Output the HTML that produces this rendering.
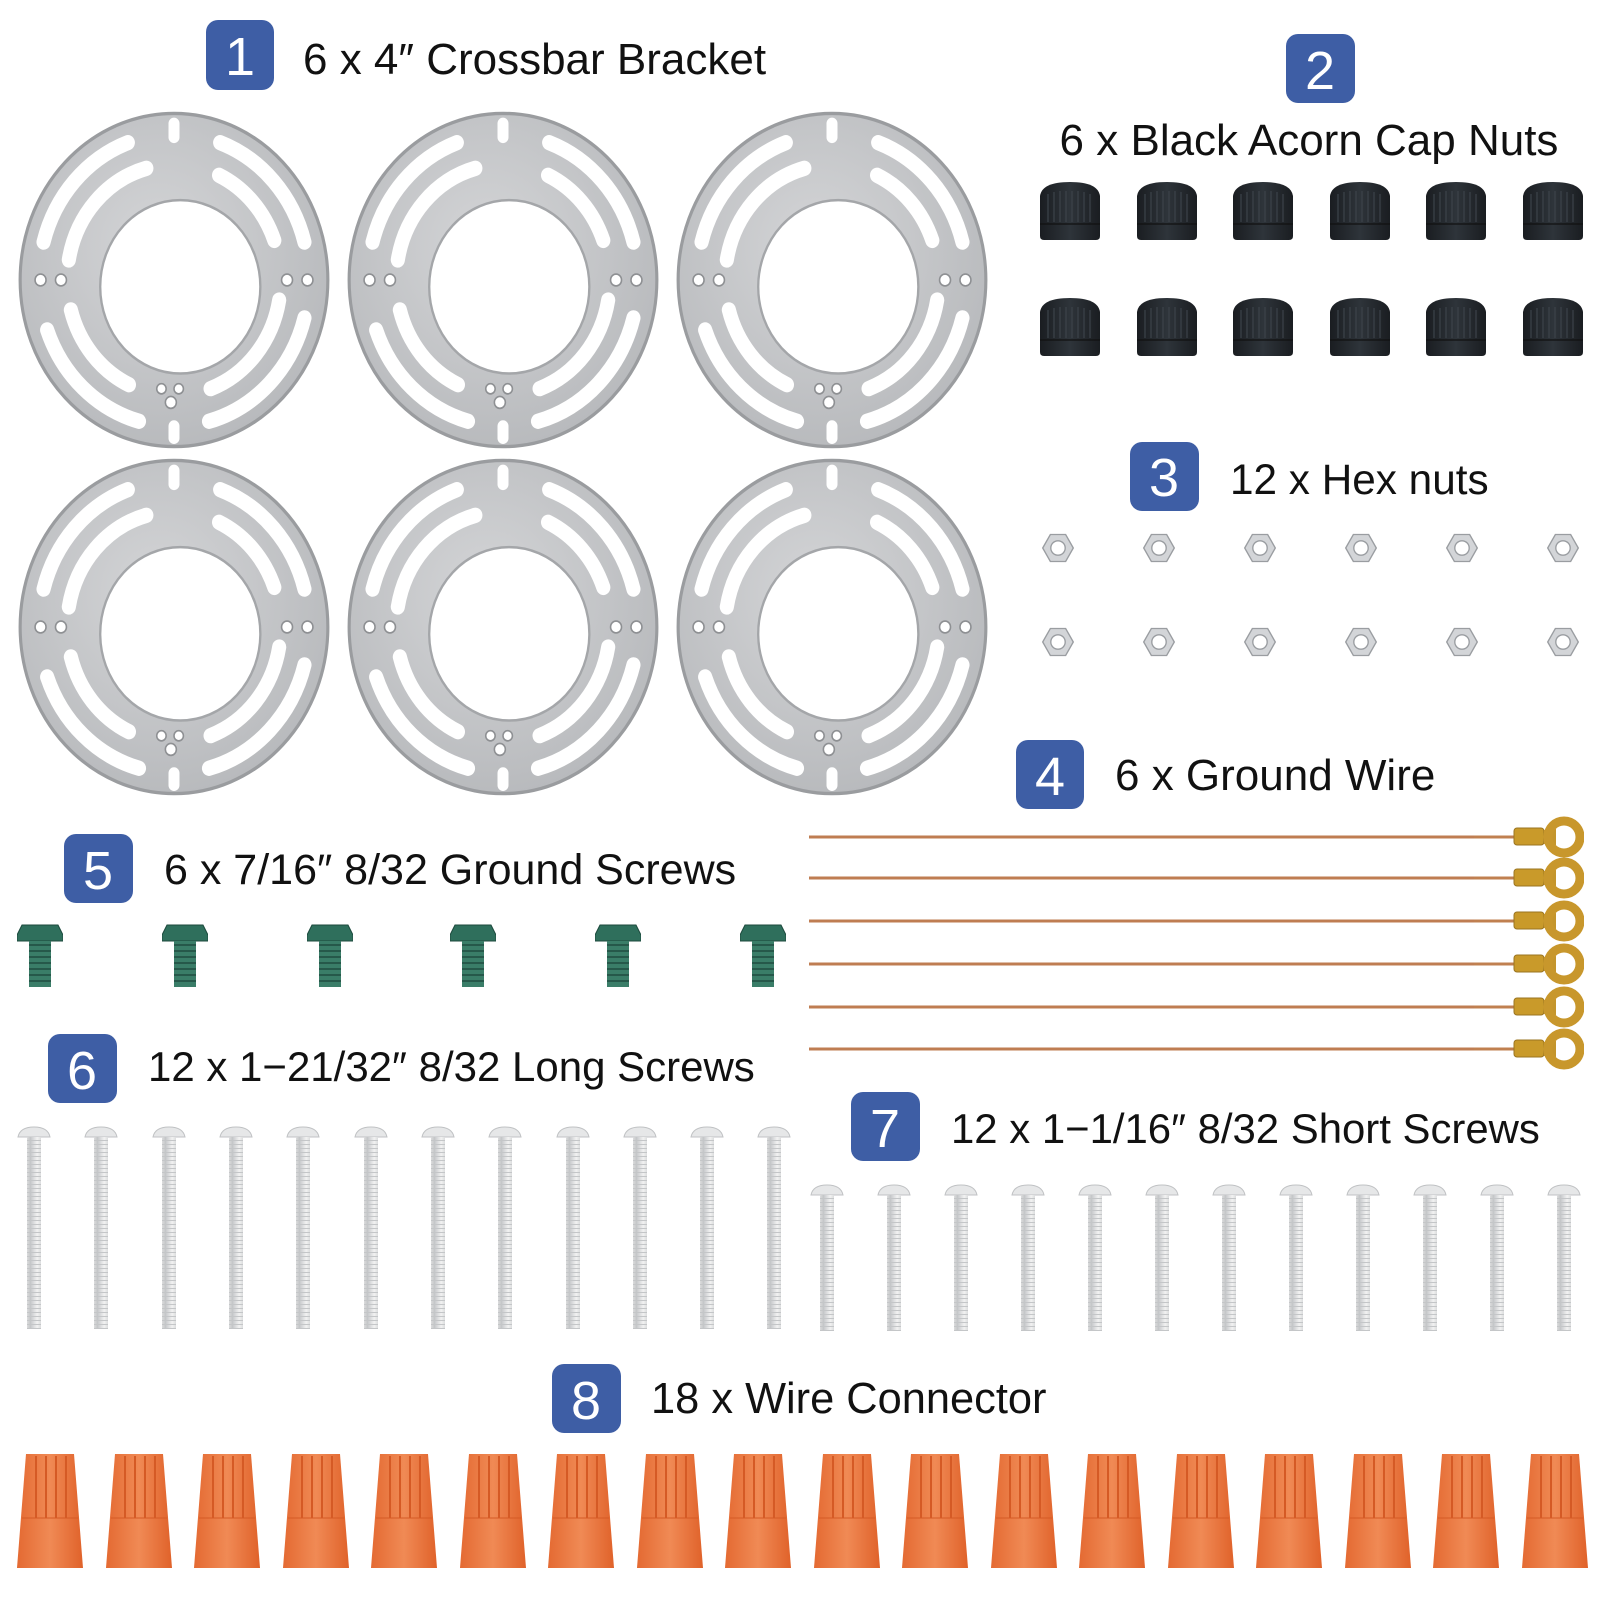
<!DOCTYPE html>
<html><head><meta charset="utf-8"><style>
html,body{margin:0;padding:0;background:#fff;}
svg{display:block}
.t{font-family:"Liberation Sans",sans-serif;font-size:44px;fill:#111;}
.n{font-family:"Liberation Sans",sans-serif;font-size:54px;fill:#fff;text-anchor:middle;}
</style></head><body>
<svg width="1600" height="1600" viewBox="0 0 1600 1600" xmlns="http://www.w3.org/2000/svg">
<defs>
<radialGradient id="plate" cx="45%" cy="40%" r="70%"><stop offset="0" stop-color="#d4d5d7"/><stop offset="1" stop-color="#b4b6b9"/></radialGradient>
<symbol id="br" viewBox="-100 -100 200 200" preserveAspectRatio="none">
 <circle cx="0" cy="0" r="98" fill="url(#plate)" stroke="#9a9c9f" stroke-width="2"/>
 <circle cx="4" cy="4" r="51" fill="#fff" stroke="#a4a6a9" stroke-width="1.5"/>
 <g fill="none" stroke="#fff" stroke-width="9" stroke-linecap="round">
  <path d="M29.4,-80.8 A86,86 0 0 1 83.1,-22.3"/>
  <path d="M-83.1,-22.3 A86,86 0 0 1 -29.4,-80.8"/>
  <path d="M-22.3,83.1 A86,86 0 0 1 -80.8,29.4"/>
  <path d="M83.1,22.3 A86,86 0 0 1 22.3,83.1"/>
  <path d="M28.7,-61.6 A68,68 0 0 1 63.9,-23.3"/>
  <path d="M-67,-11.8 A68,68 0 0 1 -17.6,-65.7"/>
  <path d="M-28.7,61.6 A68,68 0 0 1 -65.7,17.6"/>
  <path d="M67,11.8 A68,68 0 0 1 23.3,63.9"/>
  <path d="M0,-92 L0,-84" stroke-width="7"/>
  <path d="M0,86 L0,93" stroke-width="7"/>
 </g>
 <g fill="#fff" stroke="#8e9093" stroke-width="1">
  <circle cx="-85" cy="0" r="3.5"/><circle cx="-72" cy="0" r="3.5"/>
  <circle cx="72" cy="0" r="3.5"/><circle cx="85" cy="0" r="3.5"/>
  <circle cx="-8" cy="64" r="3"/><circle cx="3" cy="64" r="3"/><circle cx="-2" cy="72" r="3.5"/>
 </g>
</symbol>
<linearGradient id="capg" x1="0" x2="1"><stop offset="0" stop-color="#1a1d21"/><stop offset=".5" stop-color="#2e343a"/><stop offset="1" stop-color="#1a1d21"/></linearGradient>
<symbol id="cap" viewBox="0 0 60 58">
 <path d="M0,14 Q2,0 30,0 Q58,0 60,14 L60,54 Q60,58 56,58 L4,58 Q0,58 0,54Z" fill="url(#capg)"/>
 <g stroke="#3c434a" stroke-width="1.2"><path d="M8,12V40M14,10V40M20,9V40M26,9V40M32,9V40M38,9V40M44,10V40M50,12V40"/><path d="M0,42H60" stroke="#111"/></g>
</symbol>
<symbol id="hex" viewBox="-20 -20 40 40">
 <polygon points="-17,0 -8.5,-15 8.5,-15 17,0 8.5,15 -8.5,15" fill="#d3d5d8" stroke="#9a9da1" stroke-width="1.5"/>
 <circle r="8" fill="#fff" stroke="#9a9da1" stroke-width="1.5"/>
</symbol>
<linearGradient id="sg" x1="0" x2="1"><stop offset="0" stop-color="#c9cbcd"/><stop offset=".45" stop-color="#f2f2f2"/><stop offset="1" stop-color="#c2c4c6"/></linearGradient>
<pattern id="thr" width="14" height="4" patternUnits="userSpaceOnUse"><rect width="14" height="4" fill="url(#sg)"/><path d="M0,3.5H14" stroke="#c4c6c8" stroke-width="1"/></pattern>
<symbol id="ls" viewBox="0 0 34 206">
 <path d="M1,12 Q3,2 17,2 Q31,2 33,12Z" fill="#e6e7e8" stroke="#c0c2c4"/>
 <rect x="10" y="12" width="14" height="192" fill="url(#thr)"/>
</symbol>
<symbol id="ss" viewBox="0 0 34 150">
 <path d="M1,12 Q3,2 17,2 Q31,2 33,12Z" fill="#e6e7e8" stroke="#c0c2c4"/>
 <rect x="10" y="12" width="14" height="136" fill="url(#thr)"/>
</symbol>
<symbol id="gs" viewBox="0 0 46 66">
 <path d="M0,12 L5,2 L41,2 L46,12 L46,18 L0,18Z" fill="#2f6f5c" stroke="#1c4a3d"/>
 <rect x="12" y="18" width="22" height="46" fill="#3a7d68"/>
 <g stroke="#1f4c40" stroke-width="1.5"><path d="M12,22H34M12,28H34M12,34H34M12,40H34M12,46H34M12,52H34M12,58H34"/></g>
</symbol>
<linearGradient id="og" x1="0" x2="1"><stop offset="0" stop-color="#e46a32"/><stop offset=".5" stop-color="#f08a55"/><stop offset="1" stop-color="#e0622a"/></linearGradient>
<symbol id="wc" viewBox="0 0 68 118">
 <path d="M10,2 L58,2 L67,116 L1,116Z" fill="url(#og)"/>
 <g stroke="#d55a25" stroke-width="2"><path d="M20,4V66M30,4V66M40,4V66M50,4V66"/><path d="M6,66H62" stroke-width="1"/></g>
</symbol>
<symbol id="ring" viewBox="0 0 110 46">
 <path d="M0,23H44" stroke="#c08050" stroke-width="3"/>
 <rect x="40" y="14" width="30" height="17" rx="3" fill="#c99a2a" stroke="#9a7420"/>
 <path d="M70,16 L82,15 L82,31 L70,30Z" fill="#c4952c"/>
 <circle cx="90" cy="23" r="16" fill="none" stroke="#c8972c" stroke-width="9"/>
</symbol>
</defs>

<rect x="206" y="20" width="68" height="70" rx="12" fill="#3e5ea5"/><text class="n" x="240" y="75">1</text>
<text class="t" x="303" y="74">6 x 4″ Crossbar Bracket</text>
<rect x="1286" y="34" width="69" height="69" rx="12" fill="#3e5ea5"/><text class="n" x="1320" y="89">2</text>
<text class="t" x="1309" y="155" text-anchor="middle">6 x Black Acorn Cap Nuts</text>
<rect x="1130" y="442" width="69" height="69" rx="12" fill="#3e5ea5"/><text class="n" x="1164" y="496">3</text>
<text class="t" x="1230" y="494" style="font-size:42.3px">12 x Hex nuts</text>
<rect x="1016" y="740" width="68" height="69" rx="12" fill="#3e5ea5"/><text class="n" x="1050" y="795">4</text>
<text class="t" x="1115" y="790">6 x Ground Wire</text>
<rect x="64" y="834" width="69" height="69" rx="12" fill="#3e5ea5"/><text class="n" x="98" y="889">5</text>
<text class="t" x="164" y="884" style="font-size:43px">6 x 7/16″ 8/32 Ground Screws</text>
<rect x="48" y="1034" width="69" height="69" rx="12" fill="#3e5ea5"/><text class="n" x="82" y="1089">6</text>
<text class="t" x="148" y="1081" style="font-size:42px">12 x 1−21/32″ 8/32 Long Screws</text>
<rect x="851" y="1092" width="69" height="69" rx="12" fill="#3e5ea5"/><text class="n" x="885" y="1147">7</text>
<text class="t" x="951" y="1143" style="font-size:41.9px">12 x 1−1/16″ 8/32 Short Screws</text>
<rect x="552" y="1364" width="69" height="69" rx="12" fill="#3e5ea5"/><text class="n" x="586" y="1419">8</text>
<text class="t" x="651" y="1413" style="font-size:43.4px">18 x Wire Connector</text>

<use href="#br" x="17" y="110" width="314" height="340"/>
<use href="#br" x="346" y="110" width="314" height="340"/>
<use href="#br" x="675" y="110" width="314" height="340"/>
<use href="#br" x="17" y="457" width="314" height="340"/>
<use href="#br" x="346" y="457" width="314" height="340"/>
<use href="#br" x="675" y="457" width="314" height="340"/>

<g>
<use href="#cap" x="1040" y="182" width="60" height="58"/><use href="#cap" x="1137" y="182" width="60" height="58"/><use href="#cap" x="1233" y="182" width="60" height="58"/><use href="#cap" x="1330" y="182" width="60" height="58"/><use href="#cap" x="1426" y="182" width="60" height="58"/><use href="#cap" x="1523" y="182" width="60" height="58"/>
<use href="#cap" x="1040" y="298" width="60" height="58"/><use href="#cap" x="1137" y="298" width="60" height="58"/><use href="#cap" x="1233" y="298" width="60" height="58"/><use href="#cap" x="1330" y="298" width="60" height="58"/><use href="#cap" x="1426" y="298" width="60" height="58"/><use href="#cap" x="1523" y="298" width="60" height="58"/>
</g>

<g>
<use href="#hex" x="1040" y="530" width="36" height="36"/><use href="#hex" x="1141" y="530" width="36" height="36"/><use href="#hex" x="1242" y="530" width="36" height="36"/><use href="#hex" x="1343" y="530" width="36" height="36"/><use href="#hex" x="1444" y="530" width="36" height="36"/><use href="#hex" x="1545" y="530" width="36" height="36"/>
<use href="#hex" x="1040" y="624" width="36" height="36"/><use href="#hex" x="1141" y="624" width="36" height="36"/><use href="#hex" x="1242" y="624" width="36" height="36"/><use href="#hex" x="1343" y="624" width="36" height="36"/><use href="#hex" x="1444" y="624" width="36" height="36"/><use href="#hex" x="1545" y="624" width="36" height="36"/>
</g>

<g stroke="#bf7d52" stroke-width="3">
<path d="M809,837H1480"/><path d="M809,878H1480"/><path d="M809,921H1480"/><path d="M809,964H1480"/><path d="M809,1007H1480"/><path d="M809,1049H1480"/>
</g>
<use href="#ring" x="1474" y="814" width="110" height="46"/>
<use href="#ring" x="1474" y="855" width="110" height="46"/>
<use href="#ring" x="1474" y="898" width="110" height="46"/>
<use href="#ring" x="1474" y="941" width="110" height="46"/>
<use href="#ring" x="1474" y="984" width="110" height="46"/>
<use href="#ring" x="1474" y="1026" width="110" height="46"/>

<use href="#gs" x="17" y="923" width="46" height="66"/><use href="#gs" x="162" y="923" width="46" height="66"/><use href="#gs" x="307" y="923" width="46" height="66"/><use href="#gs" x="450" y="923" width="46" height="66"/><use href="#gs" x="595" y="923" width="46" height="66"/><use href="#gs" x="740" y="923" width="46" height="66"/>

<g>
<use href="#ls" x="17" y="1125" width="34" height="206"/><use href="#ls" x="84" y="1125" width="34" height="206"/><use href="#ls" x="152" y="1125" width="34" height="206"/><use href="#ls" x="219" y="1125" width="34" height="206"/><use href="#ls" x="286" y="1125" width="34" height="206"/><use href="#ls" x="354" y="1125" width="34" height="206"/><use href="#ls" x="421" y="1125" width="34" height="206"/><use href="#ls" x="488" y="1125" width="34" height="206"/><use href="#ls" x="556" y="1125" width="34" height="206"/><use href="#ls" x="623" y="1125" width="34" height="206"/><use href="#ls" x="690" y="1125" width="34" height="206"/><use href="#ls" x="757" y="1125" width="34" height="206"/>
</g>
<g>
<use href="#ss" x="810" y="1183" width="34" height="150"/><use href="#ss" x="877" y="1183" width="34" height="150"/><use href="#ss" x="944" y="1183" width="34" height="150"/><use href="#ss" x="1011" y="1183" width="34" height="150"/><use href="#ss" x="1078" y="1183" width="34" height="150"/><use href="#ss" x="1145" y="1183" width="34" height="150"/><use href="#ss" x="1212" y="1183" width="34" height="150"/><use href="#ss" x="1279" y="1183" width="34" height="150"/><use href="#ss" x="1346" y="1183" width="34" height="150"/><use href="#ss" x="1413" y="1183" width="34" height="150"/><use href="#ss" x="1480" y="1183" width="34" height="150"/><use href="#ss" x="1547" y="1183" width="34" height="150"/>
</g>

<g>
<use href="#wc" x="16" y="1452" width="68" height="118"/><use href="#wc" x="105" y="1452" width="68" height="118"/><use href="#wc" x="193" y="1452" width="68" height="118"/><use href="#wc" x="282" y="1452" width="68" height="118"/><use href="#wc" x="370" y="1452" width="68" height="118"/><use href="#wc" x="459" y="1452" width="68" height="118"/><use href="#wc" x="547" y="1452" width="68" height="118"/><use href="#wc" x="636" y="1452" width="68" height="118"/><use href="#wc" x="724" y="1452" width="68" height="118"/><use href="#wc" x="813" y="1452" width="68" height="118"/><use href="#wc" x="901" y="1452" width="68" height="118"/><use href="#wc" x="990" y="1452" width="68" height="118"/><use href="#wc" x="1078" y="1452" width="68" height="118"/><use href="#wc" x="1167" y="1452" width="68" height="118"/><use href="#wc" x="1255" y="1452" width="68" height="118"/><use href="#wc" x="1344" y="1452" width="68" height="118"/><use href="#wc" x="1432" y="1452" width="68" height="118"/><use href="#wc" x="1521" y="1452" width="68" height="118"/>
</g>
</svg>
</body></html>
